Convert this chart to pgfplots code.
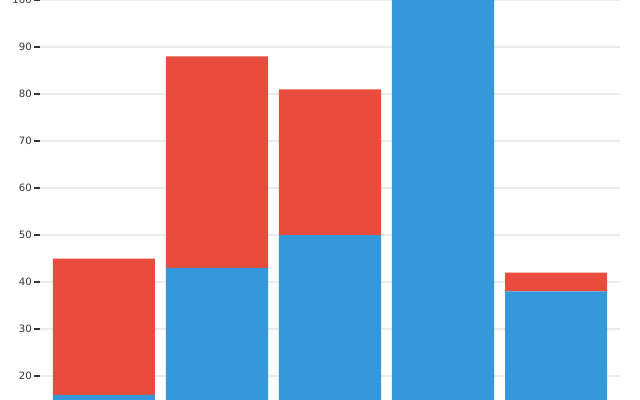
\documentclass[border=0pt]{standalone}
\usepackage{fontspec}
\setmainfont{DejaVu Sans}
\usepackage{pgfplots}
\pgfplotsset{compat=1.18}
\definecolor{barblue}{HTML}{3498DB}
\definecolor{barred}{HTML}{E74C3C}
\definecolor{gridgray}{HTML}{EBEBEB}
\definecolor{ticktext}{HTML}{333333}

\begin{document}
\begin{tikzpicture}[x=0.75pt,y=0.75pt]
\useasboundingbox (0,0) rectangle (640,400);
\begin{axis}[
  at={(30pt,0pt)}, anchor=south west,
  scale only axis, width=435pt, height=300pt,
  ybar stacked, bar width=0.903,
  xmin=-0.566, xmax=4.566,
  ymin=14.9, ymax=100,
  xtick=\empty,
  ytick={20,30,...,100}, ytick pos=left,
  ymajorgrids, grid style={gridgray, line width=1pt},
  axis line style={draw=none},
  tick align=outside, major tick length=4.5pt,
  ytick style={ticktext, line width=0.8pt},
  yticklabel style={font=\fontsize{7.6}{9}\selectfont, text=ticktext, inner sep=1.5pt},
  /pgf/number format/assume math mode=true,
  clip=true,
]
  \addplot[fill=barblue, draw=none] coordinates {(0,16) (1,43) (2,50) (3,100) (4,38)};
  \addplot[fill=barred, draw=none] coordinates {(0,29) (1,45) (2,31) (3,0) (4,4)};
\end{axis}
\end{tikzpicture}
\end{document}
